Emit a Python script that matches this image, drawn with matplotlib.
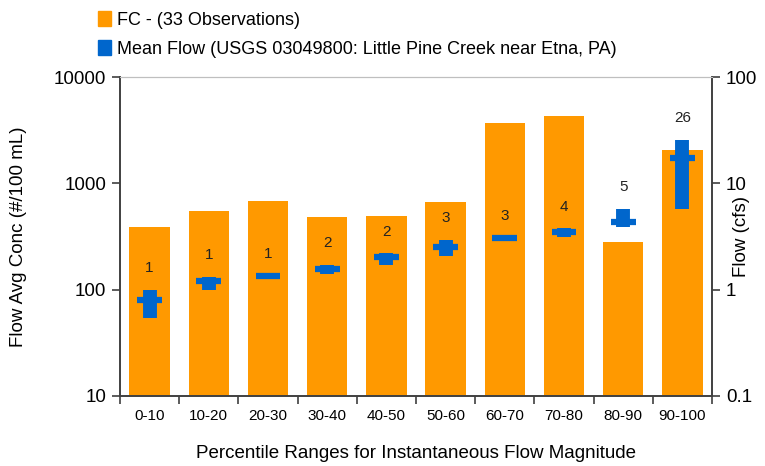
import matplotlib
matplotlib.use("Agg")
import matplotlib.pyplot as plt
from matplotlib.patches import Patch
from matplotlib.ticker import FixedLocator, NullFormatter, NullLocator

plt.rcParams["font.family"] = ["Liberation Sans", "DejaVu Sans"]

ORANGE, BLUE, INK = "#FF9900", "#0066CC", "#404040"

categories = ["0-10", "10-20", "20-30", "30-40", "40-50",
              "50-60", "60-70", "70-80", "80-90", "90-100"]
fc_conc = [388, 550, 681, 482, 490, 667, 3690, 4300, 280, 2060]
flow_mean = [0.80, 1.20, 1.34, 1.56, 2.04, 2.50, 3.08, 3.48, 4.30, 17.2]
flow_min = [0.544, 1.00, 1.34, 1.39, 1.70, 2.08, 3.08, 3.16, 3.85, 5.7]
flow_max = [1.00, 1.32, 1.34, 1.70, 2.19, 2.93, 3.08, 3.77, 5.73, 25.5]
n_obs = [1, 1, 1, 2, 2, 3, 3, 4, 5, 26]

x = list(range(len(categories)))

fig = plt.figure(figsize=(7.65, 4.66), dpi=100)
ax = fig.add_axes([120 / 765, 1 - 396 / 466, 592 / 765, 319 / 466])
ax.bar(x, fc_conc, width=0.68, color=ORANGE, zorder=2)
ax.set_yscale("log")
ax.set_ylim(10, 10000)
ax.set_xlim(-0.5, len(categories) - 0.5)
ax.yaxis.set_minor_locator(NullLocator())
ax.set_yticks([10, 100, 1000, 10000])
ax.set_yticklabels(["10", "100", "1000", "10000"])

ax.set_xticks(x)
ax.set_xticklabels(categories, fontsize=11)
ax.xaxis.set_minor_locator(FixedLocator([i - 0.5 for i in range(len(categories) + 1)]))
ax.xaxis.set_minor_formatter(NullFormatter())
ax.tick_params(axis="x", which="major", length=0, pad=9)
ax.tick_params(axis="x", which="minor", length=6, width=1.2, color=INK)
ax.tick_params(axis="y", length=6, width=1.2, color=INK, labelsize=13.5, pad=4)

ax.set_ylabel("Flow Avg Conc (#/100 mL)", fontsize=13.5)
ax.yaxis.set_label_coords(-0.157, 0.5)
ax.set_xlabel("Percentile Ranges for Instantaneous Flow Magnitude", fontsize=13.5, labelpad=16)

ax2 = ax.twinx()
ax2.set_yscale("log")
ax2.set_ylim(0.1, 100)
ax2.yaxis.set_minor_locator(NullLocator())
ax2.set_yticks([0.1, 1, 10, 100])
ax2.set_yticklabels(["0.1", "1", "10", "100"])
ax2.tick_params(axis="y", length=6, width=1.2, color=INK, labelsize=13.5, pad=4)
ax2.set_ylabel("Flow (cfs)", fontsize=13.5)
ax2.yaxis.set_label_coords(1.035, 0.5)

ax2.vlines(x, flow_min, flow_max, color=BLUE, linewidth=10, capstyle="butt", zorder=3)
ax2.hlines(flow_mean, [i - 0.21 for i in x], [i + 0.21 for i in x],
           color=BLUE, linewidth=4.5, capstyle="butt", zorder=4)
for xi, top, n in zip(x, flow_max, n_obs):
    ax2.text(xi, top * 1.6, str(n), ha="center", va="center", fontsize=11, color="#222222")

for a in (ax, ax2):
    for side in ("left", "right", "bottom"):
        a.spines[side].set_color(INK)
        a.spines[side].set_linewidth(1.2)
    a.spines["top"].set_color("#BFBFBF")
    a.spines["top"].set_linewidth(0.8)

handles = [Patch(color=ORANGE, label="FC - (33 Observations)"),
           Patch(color=BLUE, label="Mean Flow (USGS 03049800: Little Pine Creek near Etna, PA)")]
fig.legend(handles=handles, loc="upper left", bbox_to_anchor=(87 / 765, 1.0),
           frameon=False, fontsize=13, handlelength=0.75, handleheight=0.9,
           handletextpad=0.3, labelspacing=0.65, borderaxespad=0.2)

fig.savefig("out.png", dpi=100)
